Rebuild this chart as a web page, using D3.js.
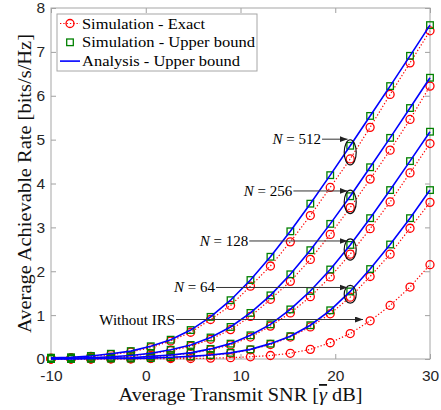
<!DOCTYPE html>
<html>
<head>
<meta charset="utf-8">
<script src="https://cdn.jsdelivr.net/npm/d3@7"></script>
<style>
    body { margin: 0; background: #fff; }
</style>
</head>
<body>
<div id="chart"></div>
<script>
// average transmit SNR grid [dB]
let snrDb = [-10, -7.89, -5.79, -3.68, -1.58, 0.53, 2.63, 4.74, 6.84, 8.95, 11.05, 13.16, 15.26, 17.37, 19.47, 21.58, 23.68, 25.79, 27.89, 30];

// simulation - exact
let exactNoIrs = [0, 0, 0, 0, 0, 0.01, 0.01, 0.01, 0.02, 0.03, 0.05, 0.08, 0.13, 0.22, 0.37, 0.58, 0.87, 1.22, 1.64, 2.15];
let exact64 = [0, 0, 0, 0.01, 0.01, 0.02, 0.03, 0.05, 0.08, 0.13, 0.21, 0.33, 0.50, 0.73, 1.03, 1.41, 1.88, 2.39, 2.98, 3.57];
let exact128 = [0, 0.01, 0.01, 0.02, 0.03, 0.05, 0.08, 0.13, 0.21, 0.32, 0.50, 0.75, 1.05, 1.42, 1.87, 2.39, 2.97, 3.58, 4.24, 4.91];
let exact256 = [0.01, 0.02, 0.03, 0.04, 0.07, 0.12, 0.19, 0.29, 0.45, 0.67, 0.97, 1.36, 1.77, 2.27, 2.84, 3.45, 4.10, 4.76, 5.46, 6.22];
let exact512 = [0.02, 0.03, 0.06, 0.10, 0.16, 0.26, 0.41, 0.61, 0.90, 1.22, 1.66, 2.12, 2.67, 3.27, 3.91, 4.56, 5.28, 6.03, 6.75, 7.48];

// upper bound (simulated squares, analysis line lies on them)
let upper64 = [0, 0, 0.01, 0.01, 0.01, 0.02, 0.04, 0.06, 0.09, 0.14, 0.22, 0.35, 0.52, 0.77, 1.11, 1.54, 2.05, 2.61, 3.21, 3.85];
let upper128 = [0.01, 0.01, 0.01, 0.02, 0.03, 0.06, 0.09, 0.14, 0.23, 0.35, 0.54, 0.79, 1.13, 1.55, 2.04, 2.60, 3.21, 3.85, 4.51, 5.18];
let upper256 = [0.01, 0.02, 0.03, 0.05, 0.08, 0.13, 0.21, 0.32, 0.49, 0.73, 1.05, 1.45, 1.93, 2.48, 3.08, 3.71, 4.37, 5.04, 5.72, 6.41];
let upper512 = [0.03, 0.04, 0.07, 0.12, 0.18, 0.29, 0.44, 0.66, 0.96, 1.34, 1.80, 2.33, 2.91, 3.54, 4.19, 4.86, 5.54, 6.22, 6.91, 7.61];

let xTicks = [-10, 0, 10, 20, 30];
let yTicks = [0, 1, 2, 3, 4, 5, 6, 7, 8];
let legendLabels = ["Simulation - Exact", "Simulation - Upper bound", "Analysis - Upper bound"];

// annotations: label, where text ends (dB, rate), which curves get an ellipse
let annoLabels = ["512", "256", "128", "64"];
let annoTextX = [18.5, 15.47, 10.82, 7.31];
let annoTextY = [5.01, 3.83, 2.69, 1.63];
let noIrsText = {label: "Without IRS", x: 3.09, y: 0.90, tipX: 22.93};

class rateVis {
    constructor(parentElement) {
        this.parentElement = parentElement;
        this.exact = [exactNoIrs, exact64, exact128, exact256, exact512];
        this.upper = [upper64, upper128, upper256, upper512];
        this.initVis();
    }

    initVis() {
        let vis = this;

        vis.margin = {top: 8, right: 11, bottom: 51, left: 51};
        vis.width = 441 - vis.margin.left - vis.margin.right;
        vis.height = 410 - vis.margin.top - vis.margin.bottom;

        vis.root = d3.select("#" + vis.parentElement).append("svg")
            .attr("width", 441)
            .attr("height", 410);

        let defs = vis.root.append("defs");
        defs.append("marker")
            .attr("id", "head")
            .attr("markerUnits", "userSpaceOnUse")
            .attr("markerWidth", 9).attr("markerHeight", 7)
            .attr("refX", 8).attr("refY", 3)
            .attr("orient", "auto")
            .append("path")
            .attr("d", "M0,0 L8,3 L0,6 Z")
            .attr("fill", "#222");

        vis.svg = vis.root.append("g")
            .attr("transform", `translate(${vis.margin.left}, ${vis.margin.top})`);

        vis.x = d3.scaleLinear().domain([-10, 30]).range([0, vis.width]);
        vis.y = d3.scaleLinear().domain([0, 8]).range([vis.height, 0]);

        // axes, ticks pointing inward like matlab (plain hyphen for negatives)
        let axisColor = "#262626";
        let xAxis = d3.axisBottom(vis.x).tickValues(xTicks).tickSizeInner(-5).tickSizeOuter(0).tickPadding(11)
            .tickFormat(d => String(d));
        let yAxis = d3.axisLeft(vis.y).tickValues(yTicks).tickSizeInner(-5).tickSizeOuter(0).tickPadding(6)
            .tickFormat(d => String(d));

        vis.svg.append("g")
            .attr("transform", `translate(0, ${vis.height})`)
            .call(xAxis);
        vis.svg.append("g").call(yAxis);

        vis.svg.append("g")
            .call(d3.axisTop(vis.x).tickValues(xTicks).tickSizeInner(-5).tickSizeOuter(0).tickFormat(""));
        vis.svg.append("g")
            .attr("transform", `translate(${vis.width}, 0)`)
            .call(d3.axisRight(vis.y).tickValues(yTicks).tickSizeInner(-5).tickSizeOuter(0).tickFormat(""));

        vis.svg.selectAll(".domain").remove();
        vis.svg.selectAll(".tick line").attr("stroke", "#a0a0a0");
        vis.svg.selectAll(".tick text")
            .style("font-family", "'Liberation Sans', Arial, sans-serif")
            .style("font-size", "15.5px")
            .attr("fill", axisColor);

        // box
        vis.svg.append("rect")
            .attr("width", vis.width)
            .attr("height", vis.height)
            .attr("fill", "none")
            .attr("stroke", "#a6a6a6")
            .attr("stroke-width", 1);

        vis.line = d3.line()
            .x((d, i) => vis.x(snrDb[i]))
            .y(d => vis.y(d));

        vis.drawCurves();
        vis.drawAnnotations();
        vis.drawLegend();

        // axis titles
        let xt = vis.svg.append("text")
            .attr("x", vis.width / 2)
            .attr("y", vis.height + 42)
            .attr("text-anchor", "middle")
            .attr("textLength", 244)
            .attr("lengthAdjust", "spacingAndGlyphs")
            .style("font-family", "'Liberation Serif', 'Times New Roman', serif")
            .style("font-size", "18px")
            .attr("fill", "#111");
        xt.append("tspan").text("Average Transmit SNR [");
        xt.append("tspan").style("font-style", "italic").style("text-decoration", "overline").text("γ");
        xt.append("tspan").text(" dB]");

        vis.root.append("text")
            .attr("transform", `translate(31, ${vis.margin.top + vis.height / 2}) rotate(-90)`)
            .attr("text-anchor", "middle")
            .attr("textLength", 299)
            .attr("lengthAdjust", "spacingAndGlyphs")
            .style("font-family", "'Liberation Serif', 'Times New Roman', serif")
            .style("font-size", "18px")
            .attr("fill", "#111")
            .text("Average Achievable Rate [bits/s/Hz]");
    }

    drawCurves() {
        let vis = this;

        // simulation - exact : red dotted with circles
        vis.exact.forEach(series => {
            vis.svg.append("path")
                .datum(series)
                .attr("d", vis.line)
                .attr("fill", "none")
                .attr("stroke", "#ff0000")
                .attr("stroke-width", 1.2)
                .attr("stroke-dasharray", "1.3,2");

            vis.svg.append("g").selectAll("circle")
                .data(series)
                .enter()
                .append("circle")
                .attr("cx", (d, i) => vis.x(snrDb[i]))
                .attr("cy", d => vis.y(d))
                .attr("r", 4)
                .attr("fill", "none")
                .attr("stroke", "#ff0000")
                .attr("stroke-width", 1.3);
        });

        // simulation - upper bound : green squares
        vis.upper.forEach(series => {
            vis.svg.append("g").selectAll("rect")
                .data(series)
                .enter()
                .append("rect")
                .attr("x", (d, i) => vis.x(snrDb[i]) - 3.3)
                .attr("y", d => vis.y(d) - 3.3)
                .attr("width", 6.6)
                .attr("height", 6.6)
                .attr("fill", "none")
                .attr("stroke", "#008000")
                .attr("stroke-width", 1.3);
        });

        // analysis - upper bound : blue line
        vis.upper.forEach(series => {
            vis.svg.append("path")
                .datum(series)
                .attr("d", vis.line)
                .attr("fill", "none")
                .attr("stroke", "#0000ff")
                .attr("stroke-width", 1.6);
        });
    }

    drawAnnotations() {
        let vis = this;
        let k = 15; // SNR index that is circled
        let tipX = vis.x(21.3);
        let serif = "'Liberation Serif', 'Times New Roman', serif";

        vis.upper.forEach((series, j) => {
            let yUp = vis.y(series[k]);
            let yEx = vis.y(vis.exact[j + 1][k]);
            vis.svg.append("ellipse")
                .attr("cx", vis.x(snrDb[k]))
                .attr("cy", (yUp + yEx) / 2)
                .attr("rx", 6)
                .attr("ry", (yEx - yUp) / 2 + 6)
                .attr("fill", "none")
                .attr("stroke", "#111")
                .attr("stroke-width", 1.2);
        });

        annoLabels.forEach((lab, j) => {
            let tx = vis.x(annoTextX[j]);
            let ty = vis.y(annoTextY[j]);

            vis.svg.append("line")
                .attr("x1", tx + 1).attr("x2", tipX)
                .attr("y1", ty).attr("y2", ty)
                .attr("stroke", "#333")
                .attr("stroke-width", 1)
                .attr("marker-end", "url(#head)");

            let t = vis.svg.append("text")
                .attr("x", tx)
                .attr("y", ty + 5)
                .attr("text-anchor", "end")
                .style("font-family", serif)
                .style("font-size", "15px")
                .attr("fill", "#000");
            t.append("tspan").style("font-style", "italic").text("N");
            t.append("tspan").text(" = " + lab);
        });

        let ny = vis.y(noIrsText.y);
        vis.svg.append("line")
            .attr("x1", vis.x(noIrsText.x) + 1).attr("x2", vis.x(noIrsText.tipX))
            .attr("y1", ny).attr("y2", ny)
            .attr("stroke", "#333")
            .attr("stroke-width", 1)
            .attr("marker-end", "url(#head)");

        vis.svg.append("text")
            .attr("x", vis.x(noIrsText.x))
            .attr("y", ny + 5)
            .attr("text-anchor", "end")
            .style("font-family", serif)
            .style("font-size", "15px")
            .attr("fill", "#000")
            .text(noIrsText.label);
    }

    drawLegend() {
        let vis = this;
        let lg = vis.root.append("g").attr("transform", "translate(57, 14)");
        let textWidths = [123, 173, 158];

        lg.append("rect")
            .attr("width", 200)
            .attr("height", 57)
            .attr("fill", "#fff")
            .attr("stroke", "#a6a6a6")
            .attr("stroke-width", 1);

        legendLabels.forEach((lab, i) => {
            let cy = 9.5 + i * 18.8;
            let row = lg.append("g").attr("transform", `translate(0, ${cy})`);

            if (i === 0) {
                row.append("line")
                    .attr("x1", 3).attr("x2", 23).attr("y1", 0).attr("y2", 0)
                    .attr("stroke", "#ff0000").attr("stroke-width", 1.2)
                    .attr("stroke-dasharray", "1.3,2");
                row.append("circle")
                    .attr("cx", 13).attr("cy", 0).attr("r", 4)
                    .attr("fill", "none").attr("stroke", "#ff0000").attr("stroke-width", 1.3);
            } else if (i === 1) {
                row.append("rect")
                    .attr("x", 13 - 3.3).attr("y", -3.3).attr("width", 6.6).attr("height", 6.6)
                    .attr("fill", "none").attr("stroke", "#008000").attr("stroke-width", 1.3);
            } else {
                row.append("line")
                    .attr("x1", 3).attr("x2", 23).attr("y1", 0).attr("y2", 0)
                    .attr("stroke", "#0000ff").attr("stroke-width", 1.6);
            }

            row.append("text")
                .attr("x", 25)
                .attr("y", 5)
                .attr("textLength", textWidths[i])
                .attr("lengthAdjust", "spacingAndGlyphs")
                .style("font-family", "'Liberation Serif', 'Times New Roman', serif")
                .style("font-size", "15px")
                .attr("fill", "#000")
                .text(lab);
        });
    }
}

let myRateVis = new rateVis("chart");
</script>
</body>
</html>
